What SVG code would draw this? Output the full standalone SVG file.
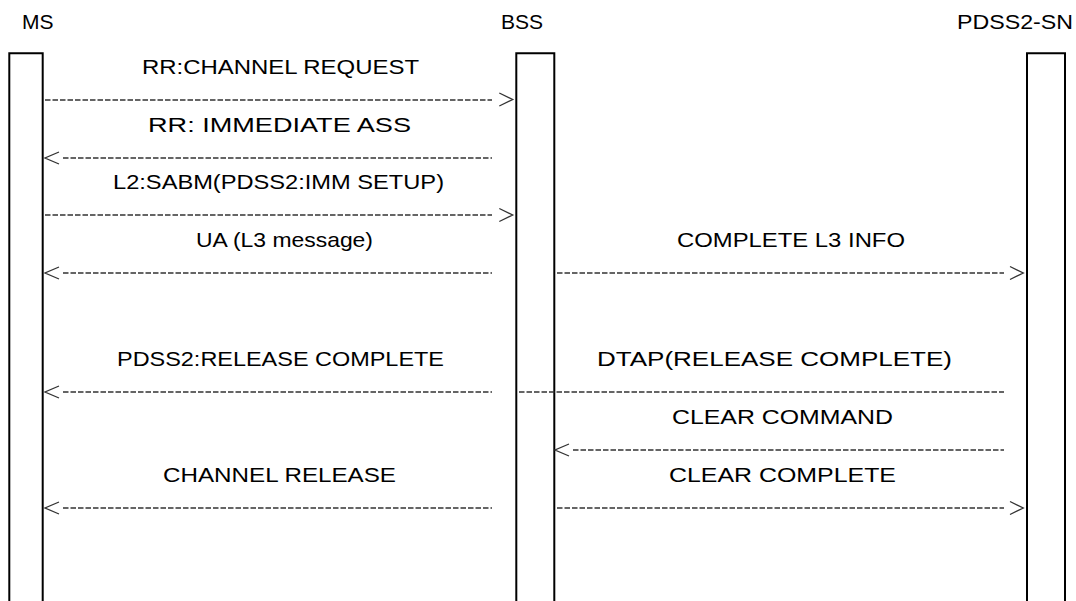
<svg xmlns="http://www.w3.org/2000/svg" width="1076" height="601" viewBox="0 0 1076 601">
<style>
text{font-family:"Liberation Sans",Arial,sans-serif;font-size:21px;fill:#000}
.bar{fill:#fff;stroke:#000;stroke-width:2}
.ln{stroke:#333;stroke-width:1.3;stroke-dasharray:5.5,2;fill:none}
.ah{stroke:#333;stroke-width:1.3;fill:none}
</style>
<rect width="1076" height="601" fill="#fff"/>
<g id="ms"><path class="bar" d="M9.3,610 V53.3 H42.7 V610"/><text x="22" y="29">MS</text></g>
<g id="bss"><path class="bar" d="M516.3,610 V53.3 H554.3 V610"/><text x="501" y="29">BSS</text></g>
<g id="pdss2sn"><path class="bar" d="M1027,610 V53.3 H1065 V610"/><text x="957" y="29" textLength="116" lengthAdjust="spacingAndGlyphs">PDSS2-SN</text></g>
<g id="connectors">
<line class="ln" x1="45" y1="100" x2="492" y2="100"/><polyline class="ah" points="499.3,93 512.7,99.5 499.3,106"/>
<line class="ln" x1="63" y1="158" x2="492" y2="158"/><polyline class="ah" points="59,152 45,158 59,164"/>
<line class="ln" x1="45" y1="215" x2="492" y2="215"/><polyline class="ah" points="499.3,208.5 512.7,215 499.3,221.5"/>
<line class="ln" x1="63" y1="273" x2="492" y2="273"/><polyline class="ah" points="59,267 45,273 59,279"/>
<line class="ln" x1="557" y1="273" x2="1004" y2="273"/><polyline class="ah" points="1010,266.5 1023.3,273 1010,279.5"/>
<line class="ln" x1="63" y1="392" x2="492" y2="392"/><polyline class="ah" points="59,386 45,392 59,398"/>
<line class="ln" x1="519" y1="392" x2="1004" y2="392"/>
<line class="ln" x1="573" y1="450" x2="1004" y2="450"/><polyline class="ah" points="569,444 555,450 569,456"/>
<line class="ln" x1="63" y1="508" x2="492" y2="508"/><polyline class="ah" points="59,502 45,508 59,514"/>
<line class="ln" x1="557" y1="508" x2="1004" y2="508"/><polyline class="ah" points="1010,501.5 1023.3,508 1010,514.5"/>
</g>
<g id="labels">
<text x="142" y="74" textLength="277" lengthAdjust="spacingAndGlyphs">RR:CHANNEL REQUEST</text>
<text x="148" y="132" textLength="263" lengthAdjust="spacingAndGlyphs">RR: IMMEDIATE ASS</text>
<text x="113" y="189" textLength="331" lengthAdjust="spacingAndGlyphs">L2:SABM(PDSS2:IMM SETUP)</text>
<text x="196" y="247" textLength="177" lengthAdjust="spacingAndGlyphs">UA (L3 message)</text>
<text x="677" y="247" textLength="228" lengthAdjust="spacingAndGlyphs">COMPLETE L3 INFO</text>
<text x="117" y="366" textLength="327" lengthAdjust="spacingAndGlyphs">PDSS2:RELEASE COMPLETE</text>
<text x="597" y="366" textLength="355" lengthAdjust="spacingAndGlyphs">DTAP(RELEASE COMPLETE)</text>
<text x="672" y="424" textLength="221" lengthAdjust="spacingAndGlyphs">CLEAR COMMAND</text>
<text x="163" y="482" textLength="233" lengthAdjust="spacingAndGlyphs">CHANNEL RELEASE</text>
<text x="669" y="482" textLength="227" lengthAdjust="spacingAndGlyphs">CLEAR COMPLETE</text>
</g>
</svg>
